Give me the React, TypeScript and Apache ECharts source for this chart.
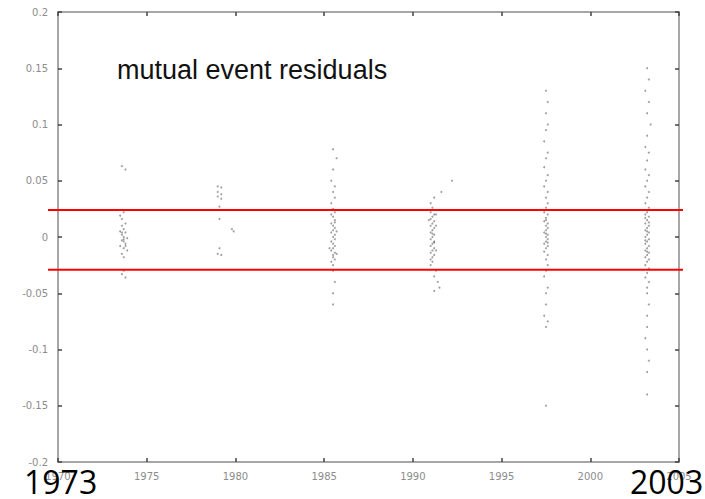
import React, { useEffect, useRef } from "react";
import * as echarts from "echarts";

const title = "mutual event residuals";
const startLabel = "1973";
const endLabel = "2003";
const redLevels = [0.024, -0.029];

// residual points per observation campaign: [year, residual]
const c1973: number[][] = [
  [1973.6, 0.063], [1973.8, 0.06], [1973.7, 0.022], [1973.5, 0.019], [1973.6, 0.016],
  [1973.8, 0.012], [1973.6, 0.01], [1973.7, 0.007], [1973.5, 0.005], [1973.8, 0.004],
  [1973.6, 0.002], [1973.7, 0.0], [1973.9, -0.001], [1973.6, -0.003], [1973.7, -0.004],
  [1973.8, -0.006], [1973.5, -0.008], [1973.7, -0.01], [1973.9, -0.012], [1973.6, -0.015],
  [1973.7, -0.018], [1973.7, -0.03], [1973.6, -0.033], [1973.8, -0.036], [1973.7, -0.002],
  [1973.6, 0.004], [1973.8, -0.008],
];
const c1979: number[][] = [
  [1979.0, 0.045], [1979.2, 0.044], [1979.0, 0.04], [1979.2, 0.038], [1979.0, 0.036],
  [1979.2, 0.034], [1979.1, 0.027], [1979.1, 0.016], [1979.8, 0.007], [1979.9, 0.005],
  [1979.1, -0.01], [1979.0, -0.015], [1979.2, -0.016],
];
const c1985: number[][] = [
  [1985.5, 0.078], [1985.7, 0.07], [1985.5, 0.06], [1985.4, 0.05], [1985.6, 0.045],
  [1985.5, 0.04], [1985.6, 0.035], [1985.4, 0.03], [1985.5, 0.025], [1985.6, 0.022],
  [1985.4, 0.02], [1985.5, 0.018], [1985.6, 0.015], [1985.4, 0.012], [1985.5, 0.01],
  [1985.6, 0.008], [1985.5, 0.006], [1985.4, 0.004], [1985.6, 0.002], [1985.5, 0.0],
  [1985.6, -0.002], [1985.4, -0.004], [1985.5, -0.006], [1985.6, -0.008], [1985.5, -0.01],
  [1985.4, -0.012], [1985.6, -0.014], [1985.5, -0.016], [1985.5, -0.018], [1985.6, -0.02],
  [1985.4, -0.022], [1985.5, -0.025], [1985.5, -0.03], [1985.6, -0.04], [1985.5, -0.05],
  [1985.5, -0.06], [1985.7, 0.005], [1985.3, -0.01], [1985.7, -0.015], [1985.6, 0.013],
];
const c1991: number[][] = [
  [1992.2, 0.05], [1991.6, 0.04], [1991.2, 0.035], [1991.0, 0.03], [1991.1, 0.026],
  [1991.0, 0.022], [1991.2, 0.02], [1991.1, 0.018], [1991.0, 0.016], [1991.2, 0.014],
  [1991.1, 0.012], [1991.0, 0.01], [1991.2, 0.008], [1991.1, 0.006], [1991.0, 0.004],
  [1991.2, 0.002], [1991.1, 0.0], [1991.0, -0.002], [1991.2, -0.004], [1991.1, -0.006],
  [1991.0, -0.008], [1991.2, -0.01], [1991.1, -0.012], [1991.0, -0.014], [1991.2, -0.016],
  [1991.1, -0.018], [1991.0, -0.02], [1991.1, -0.022], [1991.0, -0.025], [1991.3, -0.03],
  [1991.2, -0.035], [1991.4, -0.04], [1991.5, -0.045], [1991.2, -0.048], [1991.3, 0.01],
  [1991.2, -0.005], [1990.9, 0.015], [1991.3, -0.012], [1991.1, 0.003], [1991.3, 0.02],
];
const c1997: number[][] = [
  [1997.5, 0.13], [1997.6, 0.12], [1997.5, 0.11], [1997.6, 0.1], [1997.5, 0.095],
  [1997.4, 0.085], [1997.6, 0.075], [1997.5, 0.07], [1997.4, 0.062], [1997.6, 0.055],
  [1997.5, 0.05], [1997.4, 0.045], [1997.6, 0.04], [1997.5, 0.035], [1997.6, 0.03],
  [1997.5, 0.026], [1997.4, 0.022], [1997.6, 0.02], [1997.5, 0.017], [1997.4, 0.014],
  [1997.6, 0.012], [1997.5, 0.01], [1997.6, 0.008], [1997.5, 0.006], [1997.4, 0.004],
  [1997.6, 0.002], [1997.5, 0.0], [1997.6, -0.002], [1997.5, -0.004], [1997.4, -0.006],
  [1997.6, -0.008], [1997.5, -0.01], [1997.4, -0.013], [1997.6, -0.016], [1997.5, -0.02],
  [1997.6, -0.025], [1997.5, -0.03], [1997.4, -0.035], [1997.6, -0.045], [1997.5, -0.05],
  [1997.5, -0.06], [1997.4, -0.07], [1997.6, -0.075], [1997.5, -0.08], [1997.5, -0.15],
  [1997.5, 0.015], [1997.6, -0.005], [1997.5, 0.003],
];
const c2003: number[][] = [
  [2003.2, 0.15], [2003.3, 0.14], [2003.1, 0.13], [2003.3, 0.12], [2003.2, 0.11],
  [2003.4, 0.1], [2003.2, 0.09], [2003.1, 0.08], [2003.3, 0.075], [2003.2, 0.068],
  [2003.1, 0.06], [2003.3, 0.055], [2003.2, 0.05], [2003.1, 0.045], [2003.3, 0.04],
  [2003.2, 0.035], [2003.1, 0.03], [2003.3, 0.026], [2003.2, 0.022], [2003.1, 0.02],
  [2003.3, 0.018], [2003.2, 0.015], [2003.1, 0.012], [2003.3, 0.01], [2003.2, 0.008],
  [2003.1, 0.006], [2003.3, 0.004], [2003.2, 0.002], [2003.1, 0.0], [2003.3, -0.002],
  [2003.2, -0.004], [2003.1, -0.006], [2003.3, -0.008], [2003.2, -0.01], [2003.1, -0.012],
  [2003.3, -0.014], [2003.2, -0.016], [2003.1, -0.018], [2003.3, -0.02], [2003.2, -0.022],
  [2003.1, -0.025], [2003.3, -0.028], [2003.2, -0.032], [2003.1, -0.036], [2003.3, -0.04],
  [2003.2, -0.045], [2003.2, -0.05], [2003.3, -0.06], [2003.2, -0.07], [2003.2, -0.08],
  [2003.1, -0.09], [2003.2, -0.1], [2003.3, -0.11], [2003.2, -0.12], [2003.2, -0.14],
  [2003.2, 0.005], [2003.1, -0.003], [2003.3, 0.013], [2003.2, -0.013], [2003.1, 0.017],
];

const xMin = 1970;
const xMax = 2005;
const yMin = -0.2;
const yMax = 0.2;

export default function App() {
  const ref = useRef<HTMLDivElement>(null);
  useEffect(() => {
    if (!ref.current) return;
    const chart = echarts.init(ref.current, undefined, { renderer: "svg" });
    const axisColor = "#8a8a8a";
    const labelColor = "#8c8c8c";
    const tickStyle = { color: "#444", width: 1.5 };
    const pts = [c1973, c1979, c1985, c1991, c1997, c2003];
    chart.setOption({
      animation: false,
      backgroundColor: "#fff",
      grid: { left: 58, top: 12, right: 26, bottom: 37 },
      xAxis: [
        {
          type: "value", min: xMin, max: xMax, interval: 5,
          axisLine: { onZero: false, lineStyle: { color: axisColor, width: 1.5 } },
          axisTick: { inside: true, length: 4, lineStyle: tickStyle },
          axisLabel: {
            color: labelColor, fontSize: 10, fontFamily: "DejaVu Sans", margin: 9,
            formatter: (v: number) => String(v),
          },
          splitLine: { show: false },
        },
        {
          type: "value", min: xMin, max: xMax, interval: 5, position: "top",
          axisLine: { onZero: false, lineStyle: { color: axisColor, width: 1.5 } },
          axisTick: { inside: true, length: 4, lineStyle: tickStyle },
          axisLabel: { show: false }, splitLine: { show: false },
        },
      ],
      yAxis: [
        {
          type: "value", min: yMin, max: yMax, interval: 0.05,
          axisLine: { show: true, onZero: false, lineStyle: { color: axisColor, width: 1.5 } },
          axisTick: { show: true, inside: true, length: 4, lineStyle: tickStyle },
          axisLabel: { color: labelColor, fontSize: 10, fontFamily: "DejaVu Sans", margin: 10 },
          splitLine: { show: false },
        },
        {
          type: "value", min: yMin, max: yMax, interval: 0.05, position: "right",
          axisLine: { show: true, onZero: false, lineStyle: { color: axisColor, width: 1.5 } },
          axisTick: { show: true, inside: true, length: 4, lineStyle: tickStyle },
          axisLabel: { show: false }, splitLine: { show: false },
        },
      ],
      series: pts.map((d) => ({
        type: "scatter",
        data: d,
        symbol: "circle",
        symbolSize: 2,
        itemStyle: { color: "rgba(55,55,55,0.6)" },
        silent: true,
      })),
    });
    const lines: any[] = redLevels.map((v) => {
      const p0 = chart.convertToPixel({ gridIndex: 0 }, [xMin, v]) as number[];
      const p1 = chart.convertToPixel({ gridIndex: 0 }, [xMax, v]) as number[];
      return {
        type: "line",
        shape: { x1: p0[0] - 10, y1: p0[1], x2: p1[0] + 4, y2: p1[1] },
        style: { stroke: "#ff0000", lineWidth: 2 },
        z: 10,
      };
    });
    const pStart = chart.convertToPixel({ gridIndex: 0 }, [xMin, yMin]) as number[];
    const pEnd = chart.convertToPixel({ gridIndex: 0 }, [xMax, yMin]) as number[];
    chart.setOption({
      graphic: [
        ...lines,
        {
          type: "text", left: 117, top: 56, z: 11,
          style: { text: title, fill: "#111", font: "27px 'Liberation Sans', Arial, sans-serif" },
        },
        {
          type: "text", x: pStart[0] - 34, y: pStart[1] + 3, z: 11,
          style: { text: startLabel, fill: "#000", font: "32px 'Open Sans', sans-serif", lineHeight: 32 },
        },
        {
          type: "text", x: pEnd[0] - 49, y: pEnd[1] + 3, z: 11,
          style: { text: endLabel, fill: "#000", font: "32px 'Open Sans', sans-serif", lineHeight: 32 },
        },
      ],
    });
    return () => chart.dispose();
  }, []);
  return <div ref={ref} style={{ width: 705, height: 499, position: "absolute", left: 0, top: 0 }} />;
}
